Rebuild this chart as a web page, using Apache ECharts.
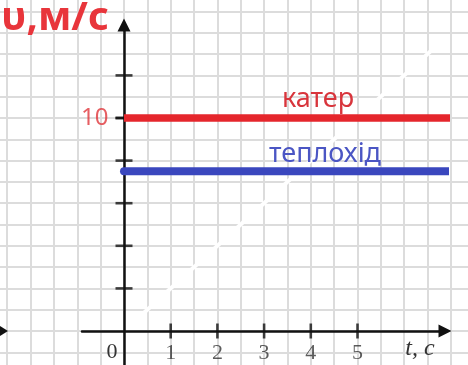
<!DOCTYPE html>
<html>
<head>
<meta charset="utf-8">
<script src="https://cdn.jsdelivr.net/npm/echarts@6/dist/echarts.min.js"></script>
<style>
html,body{margin:0;padding:0;background:#fff;}
#chart{width:468px;height:365px;}
</style>
</head>
<body>
<div id="chart"></div>
<script>
// ---- data ----
const timeTicks = [1, 2, 3, 4, 5];            // t, c
const speedTicks = [2, 4, 6, 8, 10, 12];      // tick marks on v axis
const speedLabels = [10];                     // labelled v value
const boatNames = ['катер', 'теплохід'];
const boatSpeeds = [10, 7.5];                 // m/s
const boatEndT = [7.26, 7.6];                 // where each drawn line ends (t)
const erasedTrace = [[0.1, 0.2], [6.6, 13.2]];// faint white erased line v = 2t

// ---- layout (pixels) ----
const W = 468, H = 365;
const X0 = 124, XU = 46.7;   // px of t=0, px per 1 s
const Y0 = 331, YU = 21.3;   // px of v=0, px per 1 m/s
const px = t => X0 + t * XU;
const py = v => Y0 - v * YU;

// paper grid (covers the whole picture)
const pXmin = -3, pXmax = 7.5, pYmin = -2, pYmax = 16;
// axes grid
const aLeft = 82, aRight = 445, aTop = 25, aBottom = H;

const RED = '#e5262c', BLUE = '#3a47be';

const chart = echarts.init(document.getElementById('chart'), null, {renderer: 'canvas'});

const hidden = {axisLine: {show: false}, axisTick: {show: false}, axisLabel: {show: false}};

const option = {
  animation: false,
  backgroundColor: '#fff',
  grid: [
    {left: px(pXmin), right: W - px(pXmax), top: py(pYmax), bottom: H - py(pYmin),
      outerBoundsMode: 'none', containLabel: false},
    {left: aLeft, right: W - aRight, top: aTop, bottom: H - aBottom,
      outerBoundsMode: 'none', containLabel: false}
  ],
  xAxis: [
    Object.assign({type: 'value', gridIndex: 0, min: pXmin, max: pXmax, interval: 0.5,
      splitLine: {show: true, lineStyle: {color: '#dcdcdc', width: 2}}}, hidden),
    {type: 'value', gridIndex: 1, min: (aLeft - X0) / XU, max: (aRight - X0) / XU,
      splitLine: {show: false},
      axisLine: {show: true, onZero: true, symbol: ['none', 'triangle'], symbolSize: [13, 13],
        lineStyle: {color: '#111', width: 2.5}},
      axisTick: {show: false},
      axisLabel: {show: false}}
  ],
  yAxis: [
    Object.assign({type: 'value', gridIndex: 0, min: pYmin, max: pYmax, interval: 1,
      splitLine: {show: true, lineStyle: {color: '#dcdcdc', width: 2}}}, hidden),
    {type: 'value', gridIndex: 1, min: (Y0 - aBottom) / YU, max: (Y0 - aTop) / YU,
      splitLine: {show: false},
      axisLine: {show: true, onZero: true, symbol: ['none', 'triangle'], symbolSize: [13, 13],
        lineStyle: {color: '#111', width: 2.5}},
      axisTick: {show: false},
      axisLabel: {show: false}}
  ],
  series: [
    {type: 'line', xAxisIndex: 1, yAxisIndex: 1, data: erasedTrace, symbol: 'none', z: 1,
      silent: true, lineStyle: {color: '#ffffff', width: 4}},
    {type: 'scatter', xAxisIndex: 1, yAxisIndex: 1, data: timeTicks.map(t => [t, 0]),
      symbol: 'rect', symbolSize: [2.6, 15], itemStyle: {color: '#111'}, z: 2, silent: true,
      label: {show: true, position: 'bottom', distance: 4, formatter: p => String(p.value[0]),
        fontFamily: 'Liberation Serif', fontSize: 22, color: '#333'}},
    {type: 'scatter', xAxisIndex: 1, yAxisIndex: 1, data: speedTicks.map(v => [0, v]),
      symbol: 'rect', symbolSize: [17, 2.6], itemStyle: {color: '#111'}, z: 2, silent: true},
    {type: 'scatter', xAxisIndex: 1, yAxisIndex: 1, data: speedLabels.map(v => [0, v]),
      symbol: 'rect', symbolSize: [17, 2.6], itemStyle: {color: '#111'}, z: 2, silent: true,
      label: {show: true, position: 'left', distance: 7, formatter: p => String(p.value[1]),
        fontFamily: 'Noto Sans', fontSize: 24, color: '#e0363b'}},
    {type: 'line', name: boatNames[0], xAxisIndex: 1, yAxisIndex: 1, clip: false, z: 3,
      data: [[0, boatSpeeds[0]], [boatEndT[0], boatSpeeds[0]]], symbol: 'none',
      lineStyle: {color: RED, width: 7.5, cap: 'butt'}},
    {type: 'line', name: boatNames[1], xAxisIndex: 1, yAxisIndex: 1, clip: false, z: 3,
      data: [[0, boatSpeeds[1]], [boatEndT[1], boatSpeeds[1]]], symbol: 'none',
      lineStyle: {color: BLUE, width: 8, cap: 'round'}}
  ],
  graphic: [
    {type: 'text', left: 1, top: -1, z: 10, style: {text: 'υ,м/с', fill: '#e8353b',
      font: 'bold 40px "Noto Sans"'}},
    {type: 'text', x: 318, y: 99, z: 10, style: {text: boatNames[0], fill: '#d8353c',
      font: '27px "Noto Sans"', align: 'center', verticalAlign: 'middle'}},
    {type: 'text', x: 325, y: 154, z: 10, style: {text: boatNames[1], fill: '#4b56c4',
      font: '27px "Noto Sans"', align: 'center', verticalAlign: 'middle'}},
    {type: 'text', x: 112, y: 352, z: 10, style: {text: '0', fill: '#333',
      font: '22px "Liberation Serif"', align: 'center', verticalAlign: 'middle'}},
    {type: 'text', x: 420, y: 349, z: 10, style: {text: 't, c', fill: '#333',
      font: 'italic 24px "Liberation Serif"', align: 'center', verticalAlign: 'middle'}},
    {type: 'polygon', z: 10, shape: {points: [[0, 326], [8, 331], [0, 336]]}, style: {fill: '#111'}}
  ]
};
chart.setOption(option);
</script>
</body>
</html>
